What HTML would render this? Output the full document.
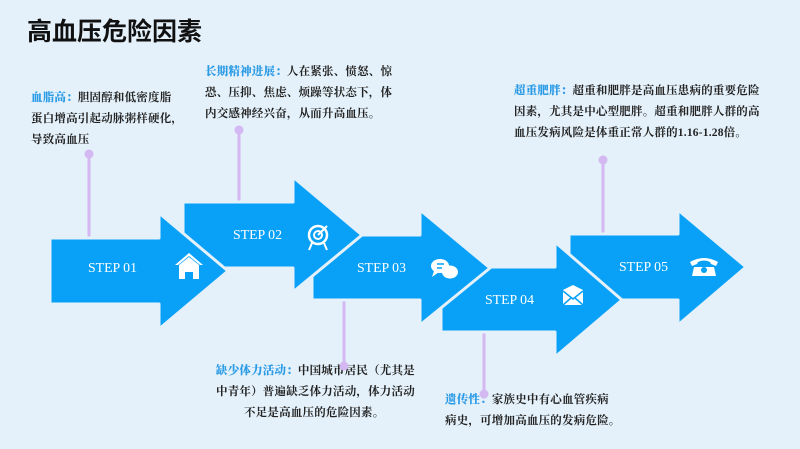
<!DOCTYPE html>
<html><head><meta charset="utf-8"><style>
body{margin:0;width:800px;height:449px;overflow:hidden;background:#e4f1fa;position:relative;font-family:"Liberation Serif","Noto Serif CJK SC",serif}
.t{position:absolute;font-size:11.5px;line-height:21px;color:#222;font-weight:bold;letter-spacing:0.2px;white-space:nowrap}
.t b{color:#2c9be6}
h1{position:absolute;left:27px;top:12px;margin:0;font:bold 25px "Liberation Sans","Noto Sans CJK SC",sans-serif;color:#111}
</style></head><body>
<h1>高血压危险因素</h1>
<div class="t" style="left:31px;top:88px"><b>血脂高：</b>胆固醇和低密度脂<br>蛋白增高引起动脉粥样硬化，<br>导致高血压</div>
<div class="t" style="left:205px;top:62px"><b>长期精神进展：</b>人在紧张、愤怒、惊<br>恐、压抑、焦虑、烦躁等状态下，体<br>内交感神经兴奋，从而升高血压。</div>
<div class="t" style="left:216px;top:361px"><b>缺少体力活动：</b>中国城市居民（尤其是<br>中青年）普遍缺乏体力活动，体力活动<br><span style="margin-left:28px">不足是高血压的危险因素。</span></div>
<div class="t" style="left:445px;top:390px"><b>遗传性：</b>家族史中有心血管疾病<br>病史，可增加高血压的发病危险。</div>
<div class="t" style="left:514px;top:81px"><b>超重肥胖：</b>超重和肥胖是高血压患病的重要危险<br>因素，尤其是中心型肥胖。超重和肥胖人群的高<br>血压发病风险是体重正常人群的1.16-1.28倍。</div>
<svg width="800" height="449" style="position:absolute;left:0;top:0" font-family="Liberation Serif" font-size="13">
<g stroke="#d3b8f2" stroke-width="3" fill="#d3b8f2">
<line x1="89" y1="154" x2="89" y2="240"/><circle cx="89" cy="154" r="4.5" stroke="none"/>
<line x1="239" y1="130" x2="239" y2="204"/><circle cx="239" cy="130" r="4.5" stroke="none"/>
<line x1="344" y1="298" x2="344" y2="366"/><circle cx="344" cy="366" r="4.5" stroke="none"/>
<line x1="484" y1="330" x2="484" y2="394"/><circle cx="484" cy="394" r="4.5" stroke="none"/>
<line x1="603" y1="160" x2="603" y2="236"/><circle cx="603" cy="160" r="4.5" stroke="none"/>
</g>
<g fill="#08a1f7" stroke="#e4f1fa" stroke-width="3" stroke-linejoin="round">
<path d="M569,234 H678 V210 L746,267 L678,325 V300 H569 Z"/>
<path d="M441,267 H555 V242 L622,300 L555,357 V332 H441 Z"/>
<path d="M312,235 H420 V210 L490,268 L420,325 V300 H312 Z"/>
<path d="M183,202 H293 V177 L362,235 L293,292 V268 H183 Z"/>
<path d="M50,238 H159 V213 L228,271 L159,329 V304 H50 Z"/>
</g>
<g fill="#fff" font-size="14">
<text x="88" y="272" textLength="49" lengthAdjust="spacingAndGlyphs">STEP 01</text>
<text x="233" y="239" textLength="49" lengthAdjust="spacingAndGlyphs">STEP 02</text>
<text x="357" y="272" textLength="49" lengthAdjust="spacingAndGlyphs">STEP 03</text>
<text x="485" y="304" textLength="49" lengthAdjust="spacingAndGlyphs">STEP 04</text>
<text x="619" y="271" textLength="49" lengthAdjust="spacingAndGlyphs">STEP 05</text>
<path d="M175,265 L189,253 L203,265 L200,265 L189,256 L178,265Z"/><path d="M179,265 L189,257 L199,265 V279 H193 V272 H185 V279 H179Z"/>
<circle cx="318" cy="235" r="9" fill="none" stroke="#fff" stroke-width="2.5"/><circle cx="318" cy="235" r="4" fill="none" stroke="#fff" stroke-width="2"/><path d="M318,235 L327,226" stroke="#fff" stroke-width="2"/><path d="M312,243 L309,250 M324,243 L327,250" stroke="#fff" stroke-width="2"/>
<ellipse cx="440" cy="266" rx="9" ry="7"/><path d="M434,271 L432,277 L439,272Z"/><ellipse cx="450" cy="272" rx="8" ry="6.5"/><path d="M437,264 H444 M437,268 H442" stroke="#08a1f7" stroke-width="1.5"/>
<path d="M563,290 L573,285 L583,290 V305 H563Z"/><path d="M563,291 L573,299 L583,291 M563,305 L571,298 M583,305 L575,298" stroke="#08a1f7" stroke-width="1.5" fill="none"/>
<path d="M690,262 Q704,254 718,262 L716,266 L711,264 L710,262 Q704,259 698,262 L697,264 L692,266Z"/><path d="M694,267 H714 L716,276 H692Z"/><circle cx="704" cy="270" r="3" fill="#08a1f7"/>
</g>
</svg>
</body></html>
